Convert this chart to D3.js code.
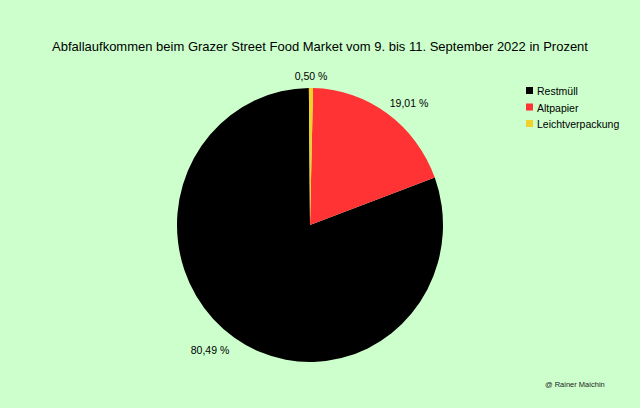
<!DOCTYPE html>
<html><head><meta charset="utf-8">
<script src="https://cdn.jsdelivr.net/npm/d3@7"></script>
<style>html,body{margin:0;padding:0;background:#ccffcc;}svg{display:block;font-family:"Liberation Sans",Arial,sans-serif;}</style>
</head><body>
<script>
const categories = ["Restmüll", "Altpapier", "Leichtverpackung"];
const values = [80.49, 19.01, 0.50];
const labels = ["80,49 %", "19,01 %", "0,50 %"];
const colors = ["#000000", "#ff3333", "#f0d22a"];
const drawOrder = ["Altpapier", "Restmüll", "Leichtverpackung"];

const W = 640, H = 408;
const svg = d3.select("body").append("svg").attr("width", W).attr("height", H);
svg.append("rect").attr("width", W).attr("height", H).attr("fill", "#ccffcc");

svg.append("text").attr("x", 320).attr("y", 51).attr("text-anchor", "middle")
  .attr("font-size", 13).attr("fill", "#000")
  .text("Abfallaufkommen beim Grazer Street Food Market vom 9. bis 11. September 2022 in Prozent");

const data = categories.map((c, i) => ({cat: c, value: values[i], label: labels[i], color: colors[i]}));
const offset = 0.023;
const pie = d3.pie().value(d => d.value)
  .startAngle(offset).endAngle(2 * Math.PI + offset)
  .sort((a, b) => drawOrder.indexOf(a.cat) - drawOrder.indexOf(b.cat));
const arcs = pie(data);
const r = 133;
const arc = d3.arc().innerRadius(0).outerRadius(r);
const g = svg.append("g").attr("transform", "translate(310,225) scale(1,1.03)");
g.selectAll("path").data(arcs).join("path").attr("d", arc).attr("fill", d => d.data.color);

// labels
const labelPos = {"Restmüll": [210, 354], "Altpapier": [409, 107], "Leichtverpackung": [311, 80]};
svg.selectAll("text.lbl").data(arcs).join("text").attr("class", "lbl")
  .attr("x", d => labelPos[d.data.cat][0]).attr("y", d => labelPos[d.data.cat][1])
  .attr("text-anchor", "middle").attr("font-size", 10.5).attr("fill", "#000")
  .text(d => d.data.label);

// legend
const lg = svg.append("g").attr("transform", "translate(526,87)");
const items = lg.selectAll("g").data(data).join("g").attr("transform", (d, i) => `translate(0,${i * 16.5})`);
items.append("rect").attr("width", 7).attr("height", 7).attr("fill", d => d.color);
items.append("text").attr("x", 11).attr("y", 8).attr("font-size", 10.5).attr("fill", "#000").text(d => d.cat);

svg.append("text").attr("x", 545).attr("y", 387).attr("font-size", 7.5).attr("fill", "#222").text("@ Rainer Maichin");
</script>
</body></html>
